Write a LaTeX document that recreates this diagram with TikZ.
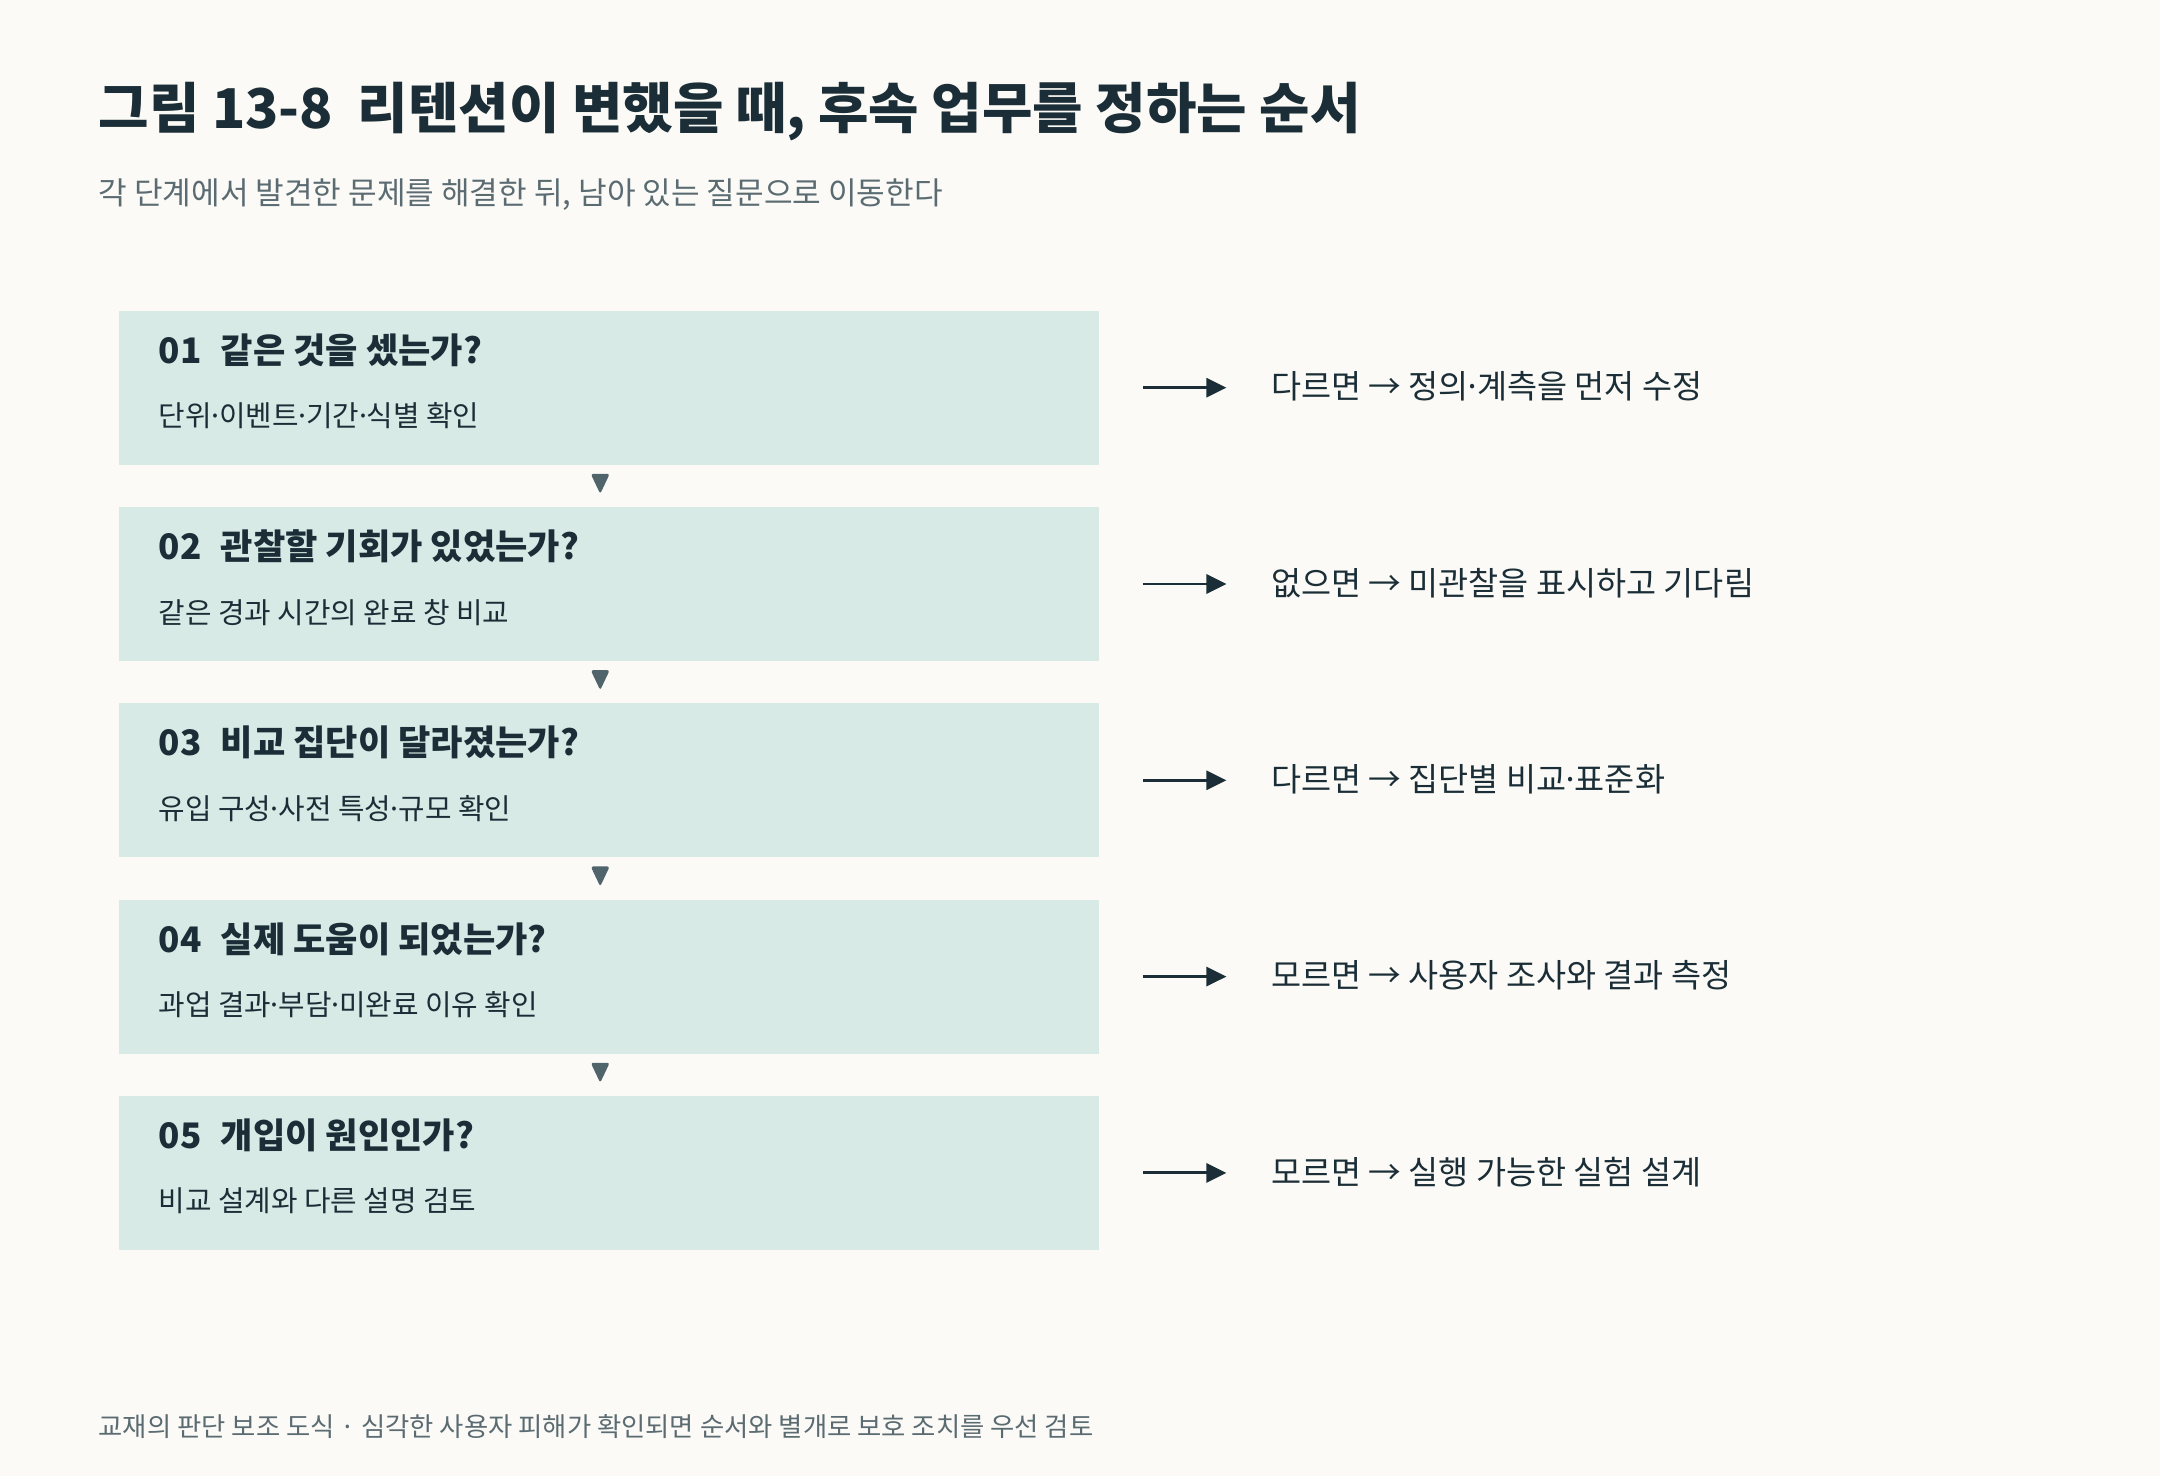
\documentclass[tikz,border=0pt]{standalone}
\usepackage{fontspec}
\setmainfont{Noto Sans CJK KR}
\usetikzlibrary{positioning,calc,arrows.meta}

\definecolor{bgpaper}{HTML}{FBFAF6}
\definecolor{boxteal}{HTML}{D7EAE5}
\definecolor{inkdark}{HTML}{1B2E37}
\definecolor{inkgray}{HTML}{5B6B72}
\definecolor{tricol}{HTML}{50646B}

% narrow middle dot
\newcommand\mdot{\kern-0.15em·\kern-0.15em}

\begin{document}
\begin{tikzpicture}[x=1mm, y=-1mm,
    stepbox/.style={fill=boxteal, minimum width=98mm, minimum height=15.4mm, anchor=north west, inner sep=0pt},
    titletext/.style={anchor=west, inner sep=0pt, text=inkdark, font=\bfseries\fontsize{15.6}{18}\selectfont},
    subtext/.style={anchor=west, inner sep=0pt, text=inkgray, font=\fontsize{8.85}{10}\selectfont},
    qtext/.style={anchor=west, inner sep=0pt, text=inkdark, font=\bfseries\fontsize{10}{12}\selectfont},
    dtext/.style={anchor=west, inner sep=0pt, text=inkdark, font=\fontsize{8.2}{10}\selectfont},
    rtext/.style={anchor=west, inner sep=0pt, text=inkdark, font=\fontsize{9.3}{11}\selectfont},
    foottext/.style={anchor=west, inner sep=0pt, text=inkgray, font=\fontsize{7.5}{9}\selectfont},
    flowarrow/.style={draw=inkdark, line width=0.85pt, -{Triangle[length=2.0mm, width=1.9mm]}}
  ]

    % Page
    \def\pw{216}
    \def\ph{147.6}
    \fill[bgpaper] (0,0) rectangle (\pw,\ph);
    \useasboundingbox (0,0) rectangle (\pw,\ph);

    % Title and subtitle
    \node[titletext] (title) at (9.8,11.2) {그림 13-8\hspace{0.45em}리텐션이 변했을 때, 후속 업무를 정하는 순서};
    \node[subtext] (subtitle) at (9.8,19.5) {각 단계에서 발견한 문제를 해결한 뒤, 남아 있는 질문으로 이동한다};

    % Steps with their follow-up on the right
    \foreach \i/\q/\d/\r [count=\n from 0] in {
        1/{같은 것을 셌는가?}/{단위\mdot 이벤트\mdot 기간\mdot 식별 확인}/{다르면 → 정의\mdot 계측을 먼저 수정},
        2/{관찰할 기회가 있었는가?}/{같은 경과 시간의 완료 창 비교}/{없으면 → 미관찰을 표시하고 기다림},
        3/{비교 집단이 달라졌는가?}/{유입 구성\mdot 사전 특성\mdot 규모 확인}/{다르면 → 집단별 비교\mdot 표준화},
        4/{실제 도움이 되었는가?}/{과업 결과\mdot 부담\mdot 미완료 이유 확인}/{모르면 → 사용자 조사와 결과 측정},
        5/{개입이 원인인가?}/{비교 설계와 다른 설명 검토}/{모르면 → 실행 가능한 실험 설계}}{
        \node[stepbox] (s\i) at (11.85, 31.0+19.63*\n) {};
        \node[qtext] (q\i) at ($(s\i.north west)+(3.95,4.0)$) {0\i\hspace{0.55em}\q};
        \node[dtext] (d\i) at ($(s\i.north west)+(3.95,10.6)$) {\d};
        \node[rtext] (r\i) at ($(s\i.east)+(17.05,-0.1)$) {\r};
        \draw[flowarrow, shorten <=4.3mm, shorten >=4.4mm] (s\i.east) -- (s\i.east -| r\i.west);
    }

    % Small down markers between the steps
    \foreach \a/\b in {1/2, 2/3, 3/4, 4/5}
        \fill[tricol, rounded corners=0.25mm] ($(s\a.south)!0.5!(s\b.north)+(-1.85,-1.2)$) -- ++(1.9,0) -- ++(-0.95,2.0) -- cycle;

    % Footnote
    \node[foottext] (foot) at (9.8,142.7) {교재의 판단 보조 도식 · 심각한 사용자 피해가 확인되면 순서와 별개로 보호 조치를 우선 검토};

\end{tikzpicture}
\end{document}
